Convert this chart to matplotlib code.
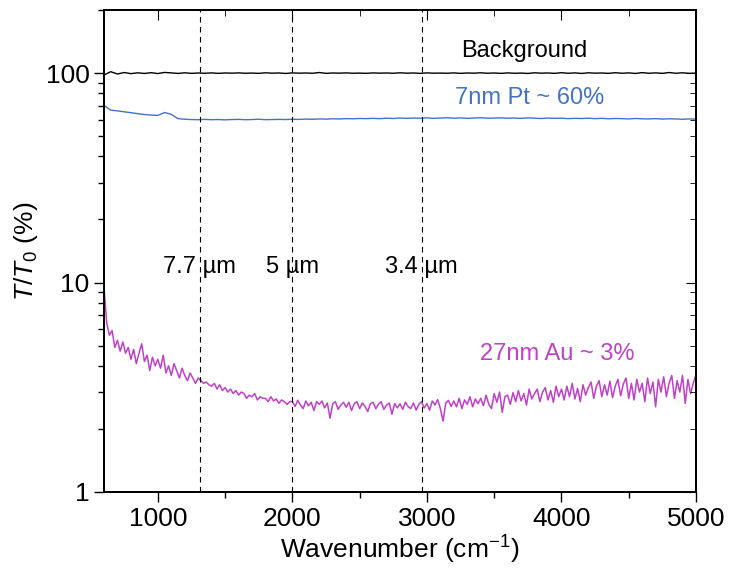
import numpy as np
import matplotlib
matplotlib.use("Agg")
import matplotlib.pyplot as plt
from matplotlib.ticker import LogLocator, NullFormatter, FixedLocator

plt.rcParams['font.family'] = ['Liberation Sans', 'DejaVu Sans']
plt.rcParams['mathtext.fontset'] = 'custom'
plt.rcParams['mathtext.rm'] = 'Liberation Sans'
plt.rcParams['mathtext.it'] = 'Liberation Sans:italic'

# wavenumber grids (cm^-1)
wn_au = np.arange(600, 5001, 20)
wn_flat = np.arange(600, 5001, 50)

# 27nm Au transmission (%), read every 20 cm^-1
au_27nm = [
    9.5, 6.4, 5.6, 5.9, 4.9, 5.3, 4.7, 5.2, 4.6, 4.9,
    4.3, 4.8, 4.1, 4.6, 5.1, 4.2, 4.5, 3.8, 4.4, 4.0,
    4.3, 3.9, 4.5, 3.7, 4.0, 3.6, 4.1, 3.8, 3.5, 3.9,
    3.6, 3.4, 3.7, 3.5, 3.3, 3.5, 3.4, 3.3, 3.35, 3.25,
    3.2, 3.3, 3.1, 3.25, 3.05, 3.15, 3.0, 3.1, 2.95, 3.05,
    2.9, 3.0, 2.95, 2.8, 2.9, 2.85, 2.95, 2.75, 2.85, 2.8,
    2.8, 2.7, 2.85, 2.72, 2.78, 2.65, 2.75, 2.7, 2.62, 2.7,
    2.7, 2.56, 2.74, 2.6, 2.5, 2.72, 2.58, 2.68, 2.45, 2.7,
    2.62, 2.72, 2.52, 2.66, 2.25, 2.64, 2.7, 2.48, 2.6, 2.68,
    2.54, 2.68, 2.45, 2.64, 2.7, 2.5, 2.66, 2.56, 2.42, 2.64,
    2.68, 2.5, 2.62, 2.7, 2.48, 2.6, 2.66, 2.35, 2.64, 2.52,
    2.64, 2.48, 2.68, 2.56, 2.5, 2.66, 2.46, 2.62, 2.7, 2.52,
    2.64, 2.46, 2.72, 2.6, 2.76, 2.5, 2.18, 2.66, 2.74, 2.56,
    2.72, 2.55, 2.8, 2.5, 2.75, 2.62, 2.85, 2.55, 2.78, 2.64,
    2.8, 2.58, 2.9, 2.62, 2.5, 2.95, 2.68, 3.0, 2.4, 2.85,
    2.9, 2.62, 2.98, 2.7, 3.05, 2.72, 2.95, 2.6, 3.1, 2.78,
    2.95, 3.1, 2.7, 3.0, 3.15, 2.75, 3.05, 2.68, 3.2, 2.85,
    3.1, 2.75, 3.2, 2.85, 3.3, 2.78, 3.12, 2.7, 3.25, 2.9,
    3.15, 3.35, 2.8, 3.2, 3.4, 2.85, 3.25, 2.9, 3.38, 2.82,
    3.2, 3.45, 2.88, 3.28, 3.5, 2.8, 3.3, 2.75, 3.45, 3.0,
    3.3, 2.7, 3.5, 2.95, 3.35, 2.55, 3.45, 3.0, 3.55, 2.85,
    3.3, 3.6, 2.8, 3.4, 3.0, 3.6, 2.65, 3.45, 2.95, 3.3,
    3.65,
]

# 7nm Pt transmission (%), every 50 cm^-1
pt_7nm = [
    70.0, 66.5, 66.0, 65.3, 64.7, 64.0, 63.4, 63.0, 62.8, 64.8,
    63.5, 60.6, 60.2, 60.0, 59.9, 60.1, 59.9, 60.0, 59.8, 60.0,
    60.1, 59.9, 60.0, 60.2, 59.9, 60.0, 60.1, 60.0, 60.2, 60.1,
    60.3, 60.2, 60.4, 60.3, 60.5, 60.4, 60.6, 60.5, 60.7, 60.6,
    60.8, 60.6, 60.9, 60.7, 61.0, 60.8, 61.0, 60.9, 61.1, 60.8,
    61.0, 61.2, 60.9, 61.1, 60.8, 61.0, 61.2, 60.9, 61.0, 61.1,
    60.9, 61.0, 60.8, 61.1, 60.9, 60.7, 61.0, 60.8, 60.9, 60.6,
    60.8, 60.7, 60.9, 60.6, 60.8, 60.5, 60.7, 60.6, 60.4, 60.7,
    60.5, 60.4, 60.6, 60.3, 60.5, 60.4, 60.2, 60.4, 60.3,
]

# background (%), every 50 cm^-1
background = [
    98.0, 101.5, 99.0, 100.6, 99.4, 100.3, 99.6, 100.4, 99.5, 100.7,
    100.2, 99.6, 100.3, 99.7, 100.1, 99.8, 100.2, 99.7, 100.1, 99.9,
    100.2, 99.8, 100.0, 99.7, 100.3, 99.9, 100.1, 99.6, 100.2, 99.9,
    100.1, 99.8, 100.6, 99.7, 100.1, 99.9, 100.2, 99.8, 100.0, 99.7,
    100.2, 99.9, 100.1, 99.8, 100.3, 99.9, 100.1, 99.7, 100.2, 99.9,
    100.0, 99.8, 100.2, 99.7, 100.1, 99.9, 100.3, 99.8, 100.1, 99.7,
    100.2, 99.8, 100.0, 99.6, 100.3, 99.9, 100.1, 99.7, 100.4, 99.8,
    100.2, 99.6, 100.3, 99.9, 100.1, 99.7, 100.4, 99.8, 100.2, 99.6,
    100.5, 99.8, 100.2, 99.7, 100.6, 99.8, 100.3, 99.7, 100.0,
]

marker_wn = [1310, 2000, 2960]
marker_labels = ["7.7 \u00b5m", "5 \u00b5m", "3.4 \u00b5m"]

blue = '#4472C4'
magenta = '#C040C8'

fig = plt.figure(figsize=(7.29, 5.73), dpi=100)
ax = fig.add_axes([0.1427, 0.1414, 0.812, 0.8411])

ax.plot(wn_flat, background, color='black', lw=1.0)
ax.plot(wn_flat, pt_7nm, color=blue, lw=1.0)
ax.plot(wn_au, au_27nm, color=magenta, lw=1.1)

for w in marker_wn:
    ax.axvline(w, color='black', lw=0.8, ls=(0, (5, 4)))
for w, lab in zip(marker_wn, marker_labels):
    ax.text(w, 11.8, lab, ha='center', va='center', fontsize=17)

ax.text(3720, 128, "Background", ha='center', va='center', fontsize=17)
ax.text(3760, 76, "7nm Pt ~ 60%", ha='center', va='center', fontsize=17, color=blue)
ax.text(3970, 4.55, "27nm Au ~ 3%", ha='center', va='center', fontsize=17, color=magenta)

ax.set_yscale('log')
ax.set_xlim(600, 5000)
ax.set_ylim(1, 200)
ax.set_xticks([1000, 2000, 3000, 4000, 5000])
ax.xaxis.set_minor_locator(FixedLocator([1500, 2500, 3500, 4500]))
ax.set_yticks([1, 10, 100])
ax.set_yticklabels(['1', '10', '100'])
ax.yaxis.set_minor_locator(LogLocator(base=10, subs=np.arange(2, 10)))
ax.yaxis.set_minor_formatter(NullFormatter())
ax.tick_params(which='major', direction='out', length=7, width=1.0, labelsize=19)
ax.tick_params(which='minor', direction='out', length=4, width=1.0)

ax.set_xlabel("Wavenumber (cm$^{-1}$)", fontsize=19, labelpad=2)
ax.set_ylabel("$T/T_0$ (%)", fontsize=19, labelpad=4)

# inward ticks on top and right, like the original
axr = ax.twinx()
axr.set_yscale('log')
axr.set_ylim(ax.get_ylim())
axr.set_yticks([1, 10, 100])
axr.yaxis.set_minor_locator(LogLocator(base=10, subs=np.arange(2, 10)))
axr.tick_params(which='both', direction='in', labelright=False)
axr.tick_params(which='major', length=7)
axr.tick_params(which='minor', length=4)
axt = ax.twiny()
axt.set_xlim(ax.get_xlim())
axt.set_xticks([1000, 2000, 3000, 4000, 5000])
axt.xaxis.set_minor_locator(FixedLocator([1500, 2500, 3500, 4500]))
axt.tick_params(which='both', direction='in', labeltop=False)
axt.tick_params(which='major', length=7)
axt.tick_params(which='minor', length=4)

for a in (ax, axr, axt):
    for s in a.spines.values():
        s.set_linewidth(1.2)

fig.savefig('out.png', dpi=100)
